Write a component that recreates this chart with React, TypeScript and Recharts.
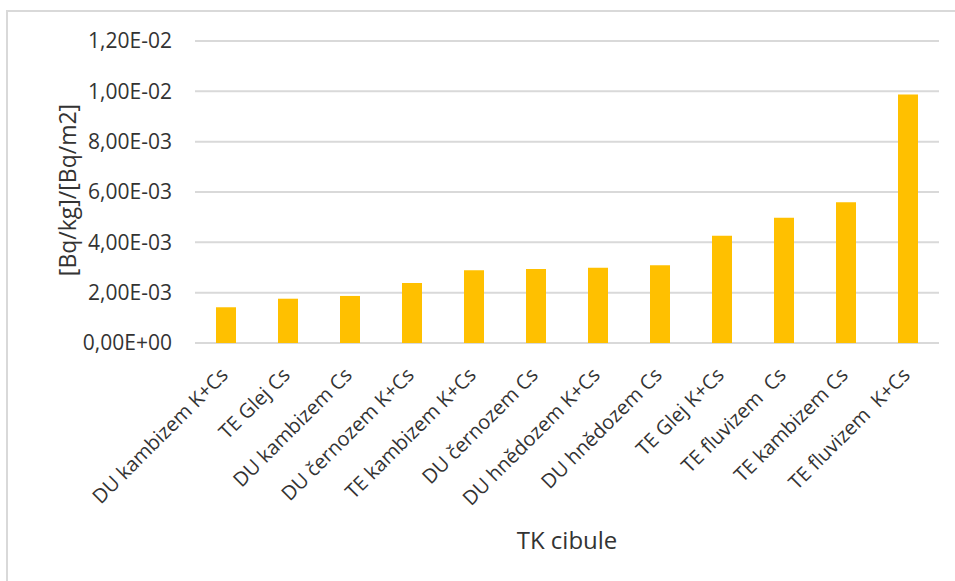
import React from 'react';
import { BarChart, Bar, XAxis, YAxis, CartesianGrid, Label } from 'recharts';

// transfer coefficients per soil / treatment
const categories = [
  'DU kambizem K+Cs',
  'TE Glej Cs',
  'DU kambizem Cs',
  'DU černozem K+Cs',
  'TE kambizem K+Cs',
  'DU černozem Cs',
  'DU hnědozem K+Cs',
  'DU hnědozem Cs',
  'TE Glej K+Cs',
  'TE fluvizem  Cs',
  'TE kambizem Cs',
  'TE fluvizem  K+Cs',
];

const tkValues = [
  0.00142, 0.00176, 0.00187, 0.00238, 0.00289, 0.00294,
  0.00299, 0.00309, 0.00426, 0.00498, 0.00559, 0.00987,
];

const yTicks = [0, 0.002, 0.004, 0.006, 0.008, 0.01, 0.012];

const chartData = categories.map((name, i) => ({ name, value: tkValues[i] }));

const FONT = '"Open Sans", sans-serif';
const TEXT = '#333333';

// Excel-style scientific notation with a decimal comma: 1,20E-02
const formatSci = (v: number) => {
  if (v === 0) return '0,00E+00';
  let exp = Math.floor(Math.log10(Math.abs(v)) + 1e-9);
  let mant = v / Math.pow(10, exp);
  if (Math.round(mant * 100) / 100 >= 10) {
    mant /= 10;
    exp += 1;
  }
  const sign = exp < 0 ? '-' : '+';
  const e = String(Math.abs(exp)).padStart(2, '0');
  return `${mant.toFixed(2).replace('.', ',')}E${sign}${e}`;
};

const CategoryTick = ({ x, y, payload }: any) => {
  const ax = x - 2;
  const ay = y + 28;
  return (
    <text
      x={ax}
      y={ay}
      transform={`rotate(-45, ${ax}, ${ay})`}
      textAnchor="end"
      dominantBaseline="central"
      fontFamily={FONT}
      fontSize={20}
      fill={TEXT}
      style={{ whiteSpace: 'pre' }}
    >
      {payload.value}
    </text>
  );
};

const YTitle = ({ viewBox }: any) => {
  const cx = viewBox.x + 67;
  const cy = viewBox.y + viewBox.height / 2 - 2;
  return (
    <text
      x={cx}
      y={cy}
      transform={`rotate(-90, ${cx}, ${cy})`}
      textAnchor="middle"
      dominantBaseline="central"
      fontFamily={FONT}
      fontSize={23}
      fill={TEXT}
    >
      [Bq/kg]/[Bq/m2]
    </text>
  );
};

const XTitle = ({ viewBox }: any) => (
  <text
    x={viewBox.x + viewBox.width / 2}
    y={viewBox.y + viewBox.height - 32}
    textAnchor="middle"
    fontFamily={FONT}
    fontSize={24}
    fill={TEXT}
  >
    TK cibule
  </text>
);

export default function App() {
  return (
    <div
      style={{
        position: 'absolute',
        left: 0,
        top: 0,
        width: 955,
        height: 581,
        background: '#ffffff',
        overflow: 'hidden',
      }}
    >
      <div
        style={{
          position: 'absolute',
          left: 6,
          top: 10,
          right: -4,
          bottom: -4,
          borderTop: '2px solid #d9d9d9',
          borderLeft: '2px solid #d9d9d9',
        }}
      />
      <BarChart
        width={955}
        height={581}
        data={chartData}
        margin={{ top: 41, right: 16, left: 0, bottom: 0 }}
        style={{ position: 'absolute', left: 0, top: 0 }}
      >
        <CartesianGrid horizontal vertical={false} stroke="#d9d9d9" strokeWidth={2} />
        <XAxis
          dataKey="name"
          height={238}
          interval={0}
          axisLine={false}
          tickLine={false}
          tickSize={0}
          tickMargin={0}
          tick={<CategoryTick />}
        >
          <Label content={<XTitle />} />
        </XAxis>
        <YAxis
          width={195}
          domain={[0, 0.012]}
          ticks={yTicks}
          tickFormatter={formatSci}
          axisLine={false}
          tickLine={false}
          tickSize={0}
          tickMargin={23}
          tick={{ fontFamily: FONT, fontSize: 21, fill: TEXT }}
        >
          <Label content={<YTitle />} />
        </YAxis>
        <Bar dataKey="value" fill="#FFC000" barSize={20} isAnimationActive={false} />
      </BarChart>
    </div>
  );
}
